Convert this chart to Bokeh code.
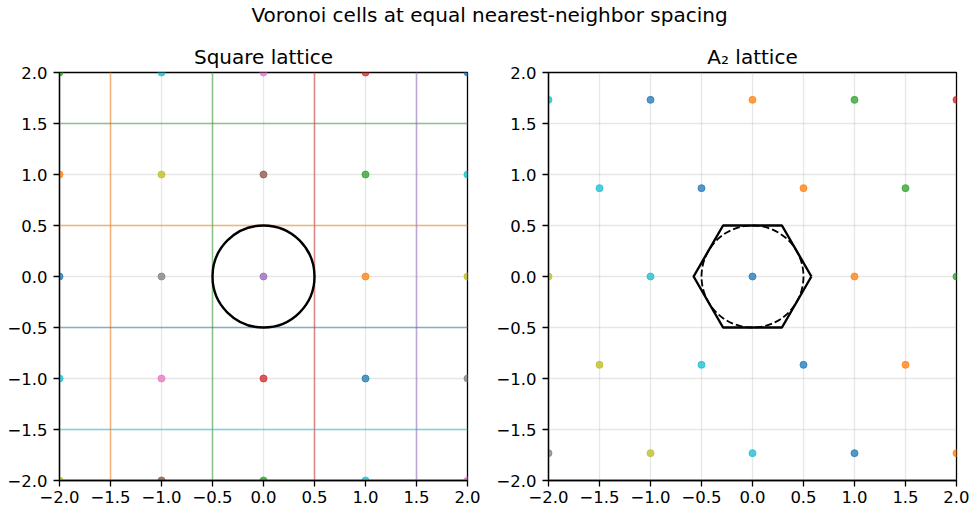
import numpy as np
from bokeh.plotting import figure
from bokeh.layouts import column, row
from bokeh.models import Div, Range1d, FixedTicker
from bokeh.embed import file_html
from bokeh.resources import INLINE

# ---------------- data ----------------
TAB = {"blue": "#1f77b4", "orange": "#ff7f0e", "green": "#2ca02c", "red": "#d62728",
       "purple": "#9467bd", "brown": "#8c564b", "pink": "#e377c2", "gray": "#7f7f7f",
       "olive": "#bcbd22", "cyan": "#17becf"}

# square lattice points (column by column)
sq_x = [-2, -2, -2, -2, -2, -1, -1, -1, -1, -1, 0, 0, 0, 0, 0, 1, 1, 1, 1, 1, 2, 2, 2, 2, 2]
sq_y = [-2, -1, 0, 1, 2] * 5
sq_c = ["olive", "cyan", "blue", "orange", "green",
        "brown", "pink", "gray", "olive", "cyan",
        "green", "red", "purple", "brown", "pink",
        "cyan", "blue", "orange", "green", "red",
        "pink", "gray", "olive", "cyan", "blue"]

# Voronoi cell boundaries of the square lattice
v_lines_x = [-1.5, -0.5, 0.5, 1.5]
v_lines_c = ["orange", "green", "red", "purple"]
h_lines_y = [1.5, 0.5, -0.5, -1.5]
h_lines_c = ["green", "orange", "blue", "cyan"]

# A2 (hexagonal) lattice points
a2_x = [-2, -1, 0, 1, 2,
        -1.5, -0.5, 0.5, 1.5,
        -2, -1, 0, 1, 2,
        -1.5, -0.5, 0.5, 1.5,
        -2, -1, 0, 1, 2]
a2_y = [1.732] * 5 + [0.866] * 4 + [0.0] * 5 + [-0.866] * 4 + [-1.732] * 5
a2_c = ["cyan", "blue", "orange", "green", "red",
        "cyan", "blue", "orange", "green",
        "olive", "cyan", "blue", "orange", "green",
        "olive", "cyan", "blue", "orange",
        "gray", "olive", "cyan", "blue", "orange"]

radius = 0.5                       # half the nearest-neighbour spacing
hex_R = 1 / np.sqrt(3)             # circumradius of the hexagonal Voronoi cell

ticks = [-2.0, -1.5, -1.0, -0.5, 0.0, 0.5, 1.0, 1.5, 2.0]
tick_labels = ["\u22122.0", "\u22121.5", "\u22121.0", "\u22120.5", "0.0", "0.5", "1.0", "1.5", "2.0"]

FONT = "DejaVu Sans"


def make_fig(title, left, right):
    p = figure(width=left + 408 + right, height=39 + 408 + 32,
               x_range=Range1d(-2, 2), y_range=Range1d(-2, 2),
               output_backend="svg", toolbar_location=None,
               min_border_left=left, min_border_right=right,
               min_border_top=39, min_border_bottom=32,
               title=title)
    p.title.text_font = FONT
    p.title.text_font_size = "20px"
    p.title.text_font_style = "normal"
    p.title.text_color = "black"
    p.title.align = "center"
    p.title.standoff = 7
    p.outline_line_color = "black"
    p.outline_line_width = 1.3
    p.outline_line_alpha = 1
    for ax in (p.xaxis[0], p.yaxis[0]):
        ax.ticker = FixedTicker(ticks=ticks)
        ax.major_label_overrides = {t: l for t, l in zip(ticks, tick_labels)}
        ax.major_label_text_font = FONT
        ax.major_label_text_font_size = "16.5px"
        ax.major_label_text_color = "black"
        ax.axis_line_color = "black"
        ax.axis_line_width = 1.3
        ax.major_tick_line_color = "black"
        ax.major_tick_line_width = 1.3
        ax.major_tick_out = 6
        ax.major_tick_in = 0
        ax.minor_tick_line_color = None
    p.xaxis.major_label_standoff = 4
    p.yaxis.major_label_standoff = 6
    for g in (p.xgrid[0], p.ygrid[0]):
        g.ticker = FixedTicker(ticks=ticks)
        g.grid_line_color = "#b0b0b0"
        g.grid_line_alpha = 0.3
        g.grid_line_width = 1.3
    p.background_fill_color = "white"
    p.border_fill_color = "white"
    return p


# ---------------- left: square lattice ----------------
p1 = make_fig("Square lattice", 59, 23)
p1.segment(x0=v_lines_x, x1=v_lines_x, y0=[-3] * 4, y1=[3] * 4,
           line_color=[TAB[c] for c in v_lines_c], line_alpha=0.5, line_width=1.6)
p1.segment(x0=[-3] * 4, x1=[3] * 4, y0=h_lines_y, y1=h_lines_y,
           line_color=[TAB[c] for c in h_lines_c], line_alpha=0.5, line_width=1.6)
p1.scatter(sq_x, sq_y, size=7, color=[TAB[c] for c in sq_c], alpha=0.75)
p1.circle(x=[0], y=[0], radius=radius, fill_color=None, line_color="black", line_width=2.4)

# ---------------- right: A2 lattice ----------------
p2 = make_fig("A\u2082 lattice", 58, 13)
p2.scatter(a2_x, a2_y, size=7, color=[TAB[c] for c in a2_c], alpha=0.75)
ang = np.deg2rad(np.arange(0, 361, 60))
p2.line(hex_R * np.cos(ang), hex_R * np.sin(ang), line_color="black", line_width=2.4)
p2.circle(x=[0], y=[0], radius=radius, fill_color=None, line_color="black",
          line_width=1.8, line_dash="7 3")

sup = Div(text="Voronoi cells at equal nearest-neighbor spacing", width=969, height=23,
          styles={"font-size": "20px", "font-family": FONT, "text-align": "center",
                  "line-height": "20px", "color": "black", "width": "969px"})

layout = column(sup, row(p1, p2, spacing=0), spacing=0)
open("out.html", "w").write(file_html(layout, INLINE))
